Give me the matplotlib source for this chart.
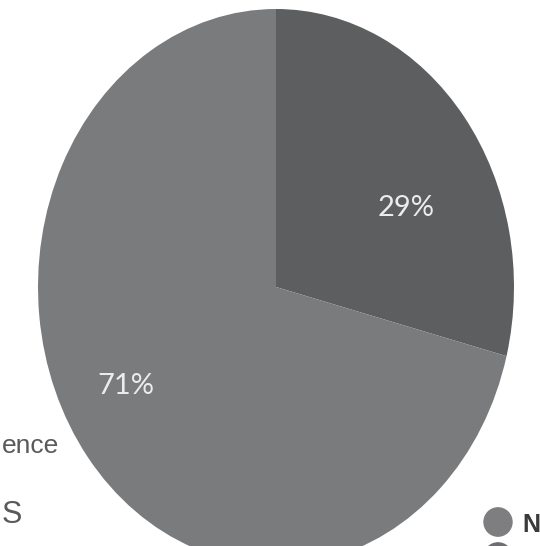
import matplotlib
matplotlib.use("Agg")
from matplotlib import pyplot as plt

# Share of responses
labels = ["29%", "71%"]
shares = [29, 71]
slice_colors = ["#5d5e60", "#7a7b7d"]

# Fragments of the side captions that fall inside the frame
left_captions = ["ence", "S"]
right_captions = ["N"]

W, H = 540, 546
fig = plt.figure(figsize=(W / 100, H / 100), dpi=100)
fig.patch.set_facecolor("white")

# pie box in pixels: centre and radii (slightly taller than wide)
cx, cy, rx, ry = 276, 287, 238, 278
ax = fig.add_axes([(cx - rx) / W, 1 - (cy + ry) / H, 2 * rx / W, 2 * ry / H])
wedges, texts, autotexts = ax.pie(
    shares, colors=slice_colors, startangle=90, counterclock=False,
    autopct=lambda p: f"{p:.0f}%", pctdistance=0.66,
    wedgeprops=dict(linewidth=0),
)
ax.set_aspect("auto")
ax.set_xlim(-1, 1)
ax.set_ylim(-1, 1)
ax.axis("off")

# percent labels, placed by pixel position inside the pie
label_px = [(406, 208), (126, 386)]
for t, (px, py) in zip(autotexts, label_px):
    t.set_position(((px - cx) / rx, (cy - py) / ry))
    t.set_color("#ececec")
    t.set_fontsize(21)
    t.set_family("Lato")

narrow = ["Liberation Sans Narrow", "Liberation Sans"]

# captions on the left
fig.text(2 / W, 1 - 446 / H, left_captions[0], ha="left", va="center",
         fontsize=19, color="#5a5a5a", family=narrow)
fig.text(2 / W, 1 - 515 / H, left_captions[1], ha="left", va="center",
         fontsize=22, color="#5a5a5a", family=narrow)

# legend markers on the right
fig.patches.append(plt.Circle((498 / W, 1 - 522 / H), 14 / W, transform=fig.transFigure,
                              color="#7e7e80", figure=fig))
fig.patches.append(plt.Circle((498 / W, 1 - 557 / H), 14 / W, transform=fig.transFigure,
                              color="#6e6e70", figure=fig))
fig.text(522 / W, 1 - 525 / H, right_captions[0], ha="left", va="center",
         fontsize=18, color="#3a3a3a", family=narrow, fontweight="bold")

fig.savefig("out.png", dpi=100)
